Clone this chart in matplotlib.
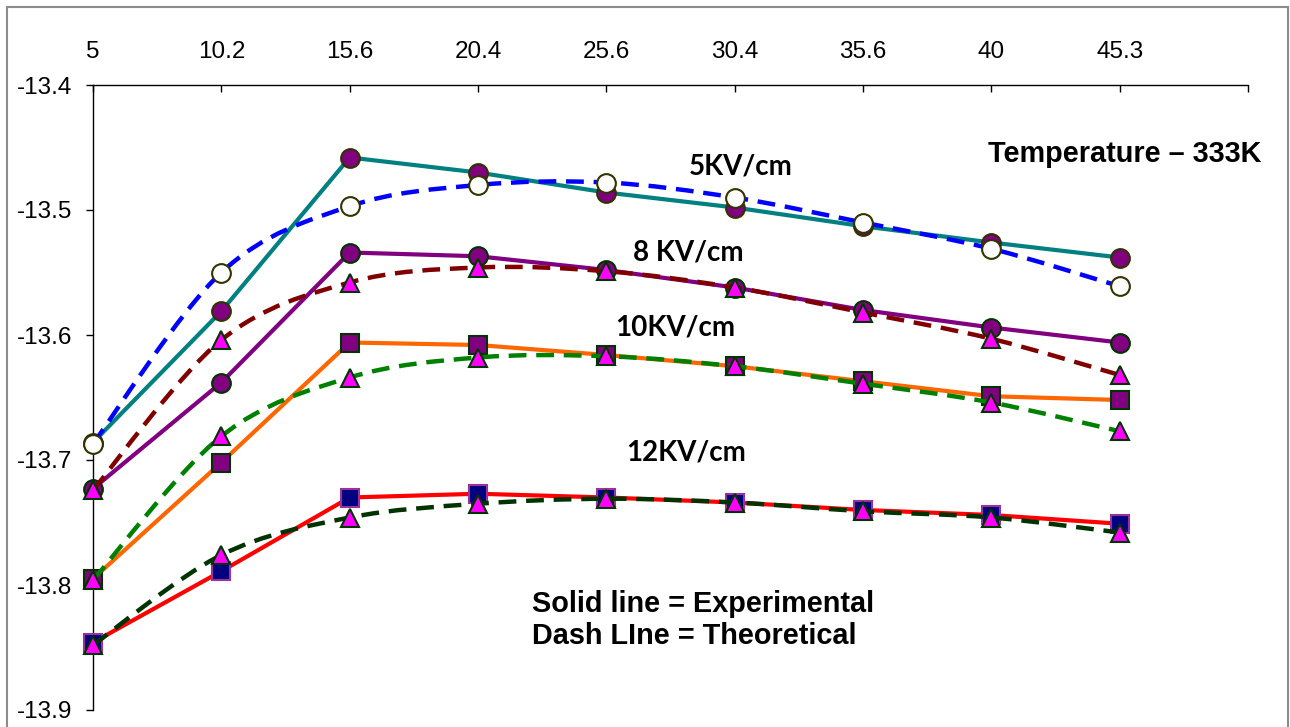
import numpy as np
import matplotlib.pyplot as plt
from matplotlib.path import Path
from matplotlib.patches import PathPatch, Rectangle

plt.rcParams['font.family'] = 'Liberation Sans'
plt.rcParams['font.size'] = 17.5

# field (x categories) shown along the top axis
categories = ['5', '10.2', '15.6', '20.4', '25.6', '30.4', '35.6', '40', '45.3']
yticks = [-13.9, -13.8, -13.7, -13.6, -13.5, -13.4]

# solid line = experimental, dash line = theoretical
exp_5kv = [-13.686, -13.581, -13.458, -13.470, -13.486, -13.498, -13.513, -13.526, -13.538]
th_5kv = [-13.687, -13.550, -13.497, -13.480, -13.478, -13.490, -13.510, -13.531, -13.561]
exp_8kv = [-13.723, -13.638, -13.534, -13.537, -13.548, -13.562, -13.580, -13.594, -13.606]
th_8kv = [-13.724, -13.604, -13.558, -13.546, -13.549, -13.562, -13.582, -13.603, -13.632]
exp_10kv = [-13.795, -13.702, -13.606, -13.608, -13.616, -13.625, -13.637, -13.649, -13.652]
th_10kv = [-13.796, -13.681, -13.634, -13.618, -13.617, -13.625, -13.639, -13.654, -13.677]
exp_12kv = [-13.846, -13.789, -13.730, -13.727, -13.730, -13.734, -13.740, -13.744, -13.751]
th_12kv = [-13.848, -13.776, -13.746, -13.735, -13.731, -13.734, -13.741, -13.746, -13.758]


def smooth_path(x, y):
    # excel-like smoothed line (catmull-rom through the data points)
    pts = np.column_stack([x, y])
    ext = np.vstack([pts[0], pts, pts[-1]])
    verts = [pts[0]]
    codes = [Path.MOVETO]
    for i in range(len(pts) - 1):
        p0, p1, p2, p3 = ext[i], ext[i + 1], ext[i + 2], ext[i + 3]
        verts += [p1 + (p2 - p0) / 6.0, p2 - (p3 - p1) / 6.0, p2]
        codes += [Path.CURVE4] * 3
    return Path(verts, codes)


fig = plt.figure(figsize=(12.9, 7.27), dpi=100)
ax = fig.add_axes([93 / 1290, 1 - 710 / 727, (1248 - 93) / 1290, (710 - 85) / 727])

x = np.arange(len(categories))

series = [
    (exp_5kv, th_5kv, '#008080', '#0000ff', 'o', '#800080', '#333300', 'o', 'white', '#333300'),
    (exp_8kv, th_8kv, '#800080', '#800000', 'o', '#800080', '#003300', '^', '#ff00ff', '#003300'),
    (exp_10kv, th_10kv, '#ff6600', '#008000', 's', '#800080', '#003300', '^', '#ff00ff', '#003300'),
    (exp_12kv, th_12kv, '#ff0000', '#003300', 's', '#000080', '#993399', '^', '#ff00ff', '#003300'),
]

for ex, th, c_ex, c_th, m_ex, f_ex, e_ex, m_th, f_th, e_th in series:
    ax.plot(x, ex, color=c_ex, lw=3, solid_joinstyle='round', zorder=2, clip_on=False)
    ax.plot(x, ex, ls='none', marker=m_ex, ms=13.5 if m_ex == 'o' else 12.5,
            mfc=f_ex, mec=e_ex, mew=1.5, zorder=3, clip_on=False)
    patch = PathPatch(smooth_path(x, th), fill=False, edgecolor=c_th, lw=3.2,
                      linestyle=(0, (4, 2.2)), zorder=4, clip_on=False)
    ax.add_patch(patch)
    ax.plot(x, th, ls='none', marker=m_th, ms=13.5 if m_th == 'o' else 13,
            mfc=f_th, mec=e_th, mew=1.5, zorder=5, clip_on=False)

ax.set_xlim(0, 9)
ax.set_ylim(-13.9, -13.4)
ax.set_xticks(np.arange(10))
ax.set_xticklabels(categories + [''], fontsize=17.5)
ax.set_yticks(yticks)
ax.set_yticklabels([f'{v:.1f}' for v in yticks], fontsize=17.5)
ax.xaxis.tick_top()
ax.tick_params(axis='x', direction='in', length=5, width=1, pad=16)
ax.tick_params(axis='y', direction='out', length=5, width=1, pad=10)
for s in ['bottom', 'right']:
    ax.spines[s].set_visible(False)
for s in ['top', 'left']:
    ax.spines[s].set_linewidth(1)
    ax.spines[s].set_color('black')

# curve labels
lab_font = dict(family='Lato', weight='bold', fontsize=20, ha='center', va='center')
ax.text(5.05, -13.465, '5KV/cm', **lab_font)
ax.text(4.64, -13.534, '8 KV/cm', **lab_font)
ax.text(4.54, -13.594, '10KV/cm', **lab_font)
ax.text(4.62, -13.694, '12KV/cm', **lab_font)

note_font = dict(family='Liberation Sans', weight='bold', fontsize=20.8)
ax.text(8.04, -13.455, 'Temperature \u2013 333K', ha='center', va='center', **note_font)
ax.text(3.42, -13.828, 'Solid line = Experimental\nDash LIne = Theoretical',
        ha='left', va='center', linespacing=1.2, **note_font)

# outer chart frame
fig.patches.append(Rectangle((7 / 1290, -0.05), (1288 - 7) / 1290, 1.05 - 7 / 727,
                             transform=fig.transFigure, fill=False,
                             edgecolor='#8c8c8c', lw=1.5))

fig.savefig('out.png', dpi=100)
